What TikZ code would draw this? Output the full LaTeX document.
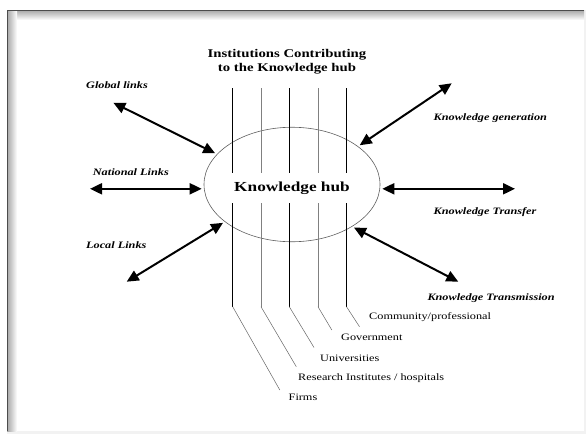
\documentclass[tikz,border=0pt]{standalone}
\usepackage{fontspec}
\setmainfont{Liberation Serif}[FakeStretch=1.25]
\usetikzlibrary{arrows.meta,shapes.geometric}
\begin{document}
\begin{tikzpicture}[x=1pt,y=-1pt,
  link/.style={line width=2pt, shorten >=2pt,
    {Triangle[length=12pt,width=11pt]}-{Triangle[length=12pt,width=11pt]}},
  linklabel/.style={anchor=west, inner sep=0pt,
    font=\fontsize{9.8}{11}\selectfont\bfseries\itshape},
  instlabel/.style={anchor=west, inner sep=0pt,
    font=\fontsize{9.8}{11}\selectfont},
  inst/.style={line width=0.6pt, black},
  instgray/.style={line width=0.6pt, gray},
  bendline/.style={line width=0.5pt, gray!80!black},
  hubshape/.style={ellipse, draw=gray!75!black, line width=0.6pt,
    minimum width=176pt, minimum height=114.5pt, inner sep=0pt}]

% page and framed panel with inner shadow
\useasboundingbox (0,0) rectangle (586,434);
\fill[white] (0,0) rectangle (586,434);
\fill[gray!10] (584,10) rectangle (586,434);
\fill[gray!10] (7,431) rectangle (586,434);
\shade[top color=gray!70, bottom color=white] (7,10) rectangle (584,20);
\shade[left color=gray!70, right color=white] (7,10) rectangle (17,431);
\draw[gray!60!black, line width=1.2pt] (7.5,431) -- (7.5,10.5) -- (584,10.5);

% title
\node[align=center, inner sep=0pt, font=\fontsize{11.8}{14}\selectfont\bfseries]
  (title) at (287,61.3) {Institutions Contributing\\to the Knowledge hub};

% hub
\node[hubshape] (hub) at (292,184.5) {};

% institutions crossing the hub
\foreach \n/\x/\ex/\ey/\sty in {1/232.7/279.8/390/inst,
                                2/261/296.3/366.7/instgray,
                                3/289.3/314/347.5/inst,
                                4/318/331.8/330/instgray,
                                5/346.5/359.5/326.7/inst} {
  \coordinate (t\n) at (\x,88.3);
  \coordinate (a\n) at (\x,173.3);
  \coordinate (b\n) at (\x,203.3);
  \coordinate (k\n) at (\x,306.7);
  \coordinate (e\n) at (\ex,\ey);
  \draw[\sty] (t\n) -- (a\n);
  \draw[\sty] (b\n) -- (k\n);
  \draw[bendline] (k\n) -- (e\n);
}

\node[inner sep=0pt, font=\fontsize{13.8}{16}\selectfont\bfseries]
  (hubtext) at (292,188.3) {Knowledge hub};

% institution labels
\node[instlabel] (comm) at (369,316.9) {Community/professional};
\node[instlabel] (gov)  at (341,337.3) {Government};
\node[instlabel] (univ) at (320,358.2) {Universities};
\node[instlabel] (res)  at (298,377.7) {Research Institutes / hospitals};
\node[instlabel] (firm) at (288.5,397.3) {Firms};

% outer ends of the links
\coordinate (gl) at (113.3,102.7);
\coordinate (na) at (90,188.8);
\coordinate (lo) at (126.7,281.7);
\coordinate (ge) at (451.7,83.3);
\coordinate (tf) at (515,188.8);
\coordinate (tm) at (458.3,281.7);

\draw[link] (gl) -- (hub.158);
\draw[link] (na) -- (na -| hub.west);
\draw[link] (lo) -- (hub.209.5);
\draw[link] (ge) -- (hub.30);
\draw[link] (tf) -- (tf -| hub.east);
\draw[link] (tm) -- (hub.325);

% link labels
\node[linklabel] (glt) at (86,85)    {Global links};
\node[linklabel] (nat) at (92.7,172.3) {National Links};
\node[linklabel] (lot) at (86,245)   {Local Links};
\node[linklabel] (get) at (433.5,118.3) {Knowledge generation};
\node[linklabel] (tft) at (433.5,212) {Knowledge Transfer};
\node[linklabel] (tmt) at (427.3,298.3) {Knowledge Transmission};
\end{tikzpicture}
\end{document}
